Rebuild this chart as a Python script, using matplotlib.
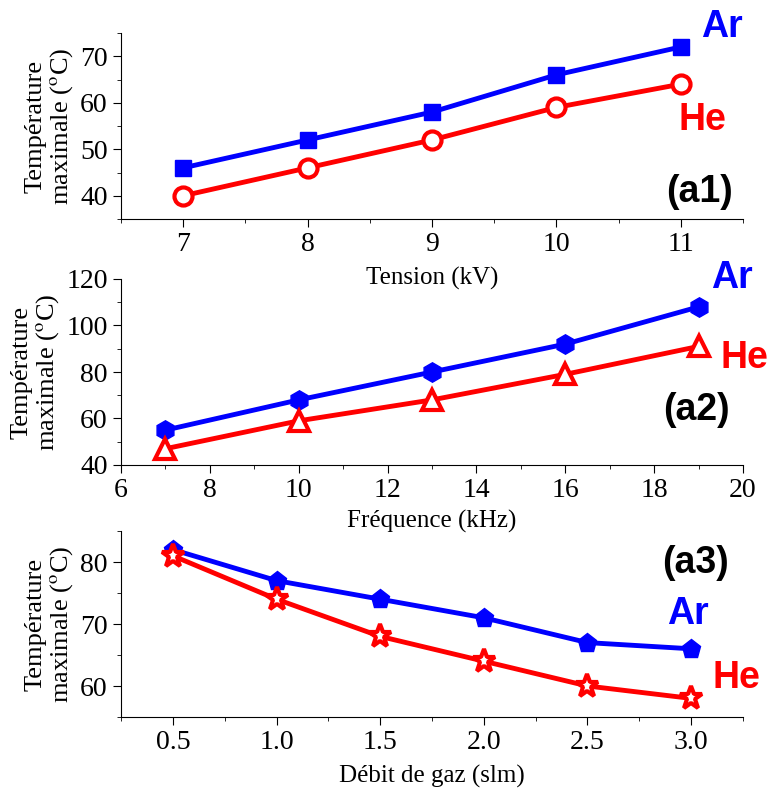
import matplotlib
matplotlib.use("Agg")
import matplotlib.pyplot as plt
from matplotlib.ticker import MultipleLocator, FormatStrFormatter

# donnees
tension = [7, 8, 9, 10, 11]
t_ar = [46, 52, 58, 66, 72]
t_he = [40, 46, 52, 59, 64]

freq = [7, 10, 13, 16, 19]
f_ar = [55, 68, 80, 92, 108]
f_he = [47, 59, 68, 79, 91]

debit = [0.5, 1.0, 1.5, 2.0, 2.5, 3.0]
d_ar = [82, 77, 74, 71, 67, 66]
d_he = [81, 74, 68, 64, 60, 58]

BLUE = "#0000ff"
RED = "#ff0000"
W, H = 767, 791

plt.rcParams["font.family"] = ["Liberation Serif", "DejaVu Serif"]
plt.rcParams["mathtext.fontset"] = "stix"

fig = plt.figure(figsize=(W / 100, H / 100), dpi=100)


def make_ax(top, bottom):
    l, r = 121, 743
    ax = fig.add_axes([l / W, 1 - bottom / H, (r - l) / W, (bottom - top) / H])
    ax.set_facecolor("none")
    return ax


def style(ax, xlabel, ylab_y, xmaj, xmin, ymaj, ymin):
    for s in ["top", "right"]:
        ax.spines[s].set_visible(False)
    ax.xaxis.set_major_locator(MultipleLocator(xmaj))
    ax.xaxis.set_minor_locator(MultipleLocator(xmin))
    ax.yaxis.set_major_locator(MultipleLocator(ymaj))
    ax.yaxis.set_minor_locator(MultipleLocator(ymin))
    ax.tick_params(which="major", direction="out", length=6, labelsize=20)
    ax.tick_params(which="minor", direction="out", length=3)
    ax.set_ylabel("Température\nmaximale ($^{\\rm o}$C)", fontsize=19, linespacing=1.05)
    fig.text(432 / W, 1 - ylab_y / H, xlabel, fontsize=18, ha="center", va="center")


def plot_pair(ax, x, ar, he, m_ar, m_he, s_ar=12, s_he=13):
    ax.plot(x, ar, color=BLUE, lw=3.5, marker=m_ar, ms=s_ar, mfc=BLUE, mec=BLUE, zorder=3)
    ax.plot(x, he, color=RED, lw=3.5, marker=m_he, ms=s_he, mfc="white", mec=RED, mew=3, zorder=4)


def lab(txt, x, y, color):
    fig.text(x / W, 1 - y / H, txt, color=color, fontsize=27, fontweight="bold",
             family=["Liberation Sans Narrow", "Liberation Sans"], ha="center", va="center")


ax1 = make_ax(33, 219)
plot_pair(ax1, tension, t_ar, t_he, "s", "o")
ax1.set_xlim(6.5, 11.5)
ax1.set_ylim(35, 75)
style(ax1, "Tension (kV)", 278, 1, 0.5, 10, 5)

ax2 = make_ax(279, 465)
plot_pair(ax2, freq, f_ar, f_he, "h", "^", s_ar=14, s_he=14)
ax2.set_xlim(6, 20)
ax2.set_ylim(40, 120)
style(ax2, "Fréquence (kHz)", 521, 2, 1, 20, 10)

ax3 = make_ax(531, 717)
plot_pair(ax3, debit, d_ar, d_he, "p", "*", s_ar=14, s_he=17)
ax3.set_xlim(0.25, 3.25)
ax3.set_ylim(55, 85)
style(ax3, "Débit de gaz (slm)", 776, 0.5, 0.25, 10, 5)
ax3.xaxis.set_major_formatter(FormatStrFormatter("%.1f"))

fig.align_ylabels([ax1, ax2, ax3])

lab("Ar", 722, 27, BLUE)
lab("He", 702, 120, RED)
lab("(a1)", 700, 192, "black")
lab("Ar", 732, 278, BLUE)
lab("He", 744, 358, RED)
lab("(a2)", 696, 410, "black")
lab("(a3)", 696, 563, "black")
lab("Ar", 688, 614, BLUE)
lab("He", 736, 678, RED)

fig.savefig("out.png", dpi=100)
